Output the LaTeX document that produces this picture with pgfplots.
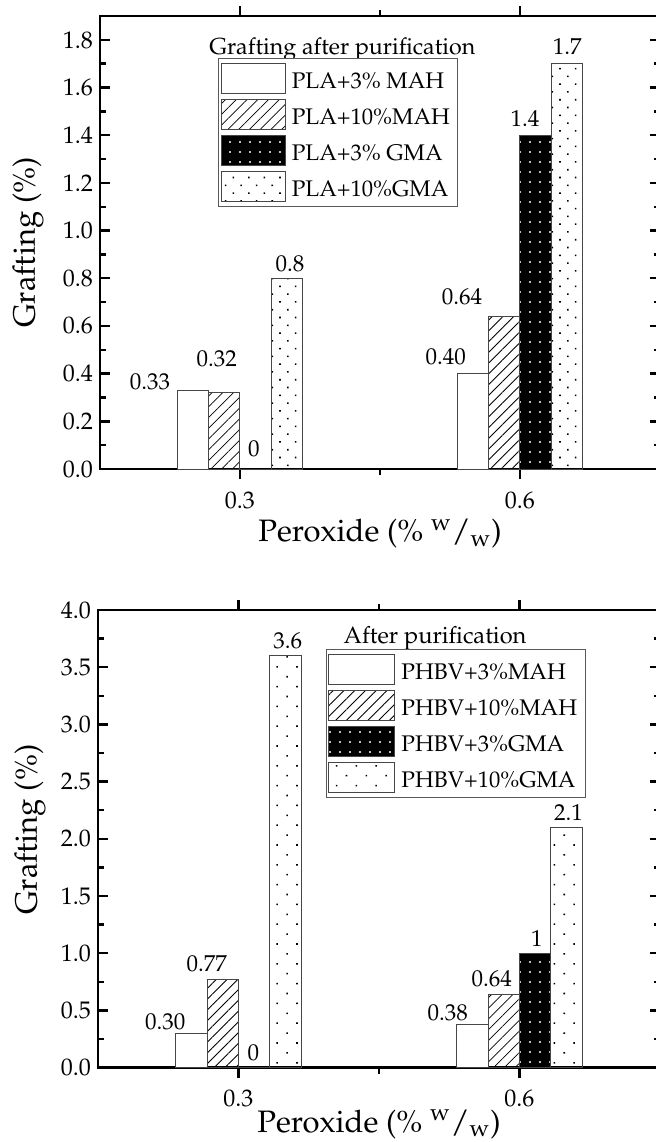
\documentclass[border=0pt]{standalone}
\usepackage[T1]{fontenc}
\usepackage{mathpazo}
\usepackage{pgfplots}
\pgfplotsset{compat=1.18}
\usetikzlibrary{patterns.meta}

% fill styles of the four series
\tikzset{
  mahlow/.style={fill=white},
  mahhigh/.style={pattern={Lines[angle=45,distance=3.8pt,line width=0.4pt]}, pattern color=black},
  gmalow/.style={fill=black, postaction={pattern={Dots[distance=5pt,radius=0.6pt]}, pattern color=white}},
  gmahigh/.style={pattern={Dots[distance=5.5pt,angle=45,radius=0.55pt]}, pattern color=black},
  gmahighsparse/.style={pattern={Dots[distance=7pt,angle=45,radius=0.55pt]}, pattern color=black},
  lbl/.style={anchor=base, inner sep=0pt, font=\fontsize{11.5}{13}\selectfont},
}

\pgfplotsset{
  grafting/.style={
    scale only axis, ybar=0pt, bar width=15.7pt,
    xmin=0.15, xmax=0.75, ymin=0,
    xtick={0.3,0.6}, xticklabels={0.3,0.6}, minor xtick={0.45},
    axis line style={line width=1.4pt},
    major tick length=5pt, minor tick length=3pt,
    every tick/.style={black, line width=1.2pt},
    tick label style={font=\fontsize{12}{14}\selectfont},
    yticklabel style={/pgf/number format/.cd, fixed, fixed zerofill, precision=1},
    xticklabel style={anchor=base, yshift=-14.6pt},
    label style={font=\fontsize{15.5}{18}\selectfont},
    ylabel={Grafting (\%)},
    xlabel={Peroxide (\% \textsuperscript{w}/\textsubscript{w})},
    every axis plot/.append style={draw=gray!55!black, line width=0.5pt},
    legend style={draw=gray!70!black, line width=0.5pt, inner xsep=1pt, inner ysep=2pt,
      row sep=2.2pt, font=\fontsize{11.3}{13}\selectfont,
      cells={anchor=base west}, nodes={inner xsep=3pt, inner ysep=0pt}},
    clip=false,
  },
  swatch/.style={legend image code/.code={\draw[##1] (0pt,-2.7pt) rectangle (#1,12.6pt);}},
}

\begin{document}
\begin{tikzpicture}
% PLA grafting
\begin{axis}[grafting,
  at={(50pt,-234.5pt)}, anchor=south west,
  width=280pt, height=226.5pt,
  ymax=1.9, ytick={0,0.2,...,1.8}, minor ytick={0.1,0.3,...,1.9},
  ylabel style={at={(axis description cs:-0.1286,0.5)}, anchor=center},
  xlabel style={at={(axis description cs:0.5,-0.1605)}, anchor=base},
  legend style={at={(rel axis cs:0.2113,0.9066)}, anchor=north west},
]
\addplot[mahlow, swatch=32pt] coordinates {(0.3,0.33) (0.6,0.40)};
\addplot[mahhigh, swatch=32pt] coordinates {(0.3,0.32) (0.6,0.64)};
\addplot[gmalow, swatch=32pt] coordinates {(0.3,0) (0.6,1.4)};
\addplot[gmahigh, swatch=32pt] coordinates {(0.3,0.8) (0.6,1.7)};
\legend{PLA+3\% MAH, PLA+10\%MAH, PLA+3\% GMA, PLA+10\%GMA}
\node[anchor=base west, inner sep=0pt, font=\fontsize{11.6}{13}\selectfont]
  at (rel axis cs:0.1946,0.9161) {Grafting after purification};
\node[lbl, yshift=0.6pt]  at (axis cs:0.2036,0.33) {0.33};
\node[lbl, yshift=13.05pt] at (axis cs:0.2750,0.32) {0.32};
\node[lbl, yshift=6.5pt]  at (axis cs:0.3150,0) {0};
\node[lbl, yshift=3.45pt] at (axis cs:0.3536,0.8) {0.8};
\node[lbl, yshift=4.75pt] at (axis cs:0.5204,0.40) {0.40};
\node[lbl, yshift=5.85pt] at (axis cs:0.5379,0.64) {0.64};
\node[lbl, yshift=4.25pt] at (axis cs:0.6054,1.4) {1.4};
\node[lbl, yshift=4.7pt]  at (axis cs:0.6507,1.7) {1.7};
\end{axis}

% PHBV grafting
\begin{axis}[grafting,
  at={(49pt,-533.75pt)}, anchor=south west,
  width=281pt, height=228.75pt,
  ymax=4, ytick={0,0.5,...,4}, minor ytick={0.25,0.75,...,3.75},
  ylabel style={at={(axis description cs:-0.121,0.52)}, anchor=center},
  xlabel style={at={(axis description cs:0.5,-0.1410)}, anchor=base},
  legend style={at={(rel axis cs:0.4057,0.9141)}, anchor=north west},
]
\addplot[mahlow, swatch=33pt] coordinates {(0.3,0.30) (0.6,0.38)};
\addplot[mahhigh, swatch=33pt] coordinates {(0.3,0.77) (0.6,0.64)};
\addplot[gmalow, swatch=33pt] coordinates {(0.3,0) (0.6,1)};
\addplot[gmahighsparse, swatch=33pt] coordinates {(0.3,3.6) (0.6,2.1)};
\legend{PHBV+3\%MAH, PHBV+10\%MAH, PHBV+3\%GMA, PHBV+10\%GMA}
\node[anchor=base west, inner sep=0pt, font=\fontsize{11.8}{13}\selectfont]
  at (rel axis cs:0.4365,0.9272) {After purification};
\node[lbl, yshift=1.95pt] at (axis cs:0.2217,0.30) {0.30};
\node[lbl, yshift=3.85pt] at (axis cs:0.2662,0.77) {0.77};
\node[lbl, yshift=3.4pt]  at (axis cs:0.3160,0) {0};
\node[lbl, yshift=3.7pt]  at (axis cs:0.3526,3.6) {3.6};
\node[lbl, yshift=2pt]    at (axis cs:0.5235,0.38) {0.38};
\node[lbl, yshift=4.15pt] at (axis cs:0.5704,0.64) {0.64};
\node[lbl, yshift=3.2pt]  at (axis cs:0.6185,1) {1};
\node[lbl, yshift=3.65pt] at (axis cs:0.6523,2.1) {2.1};
\end{axis}

\pgfresetboundingbox
\useasboundingbox (0,0) rectangle (328pt,-571pt);
\end{tikzpicture}
\end{document}
